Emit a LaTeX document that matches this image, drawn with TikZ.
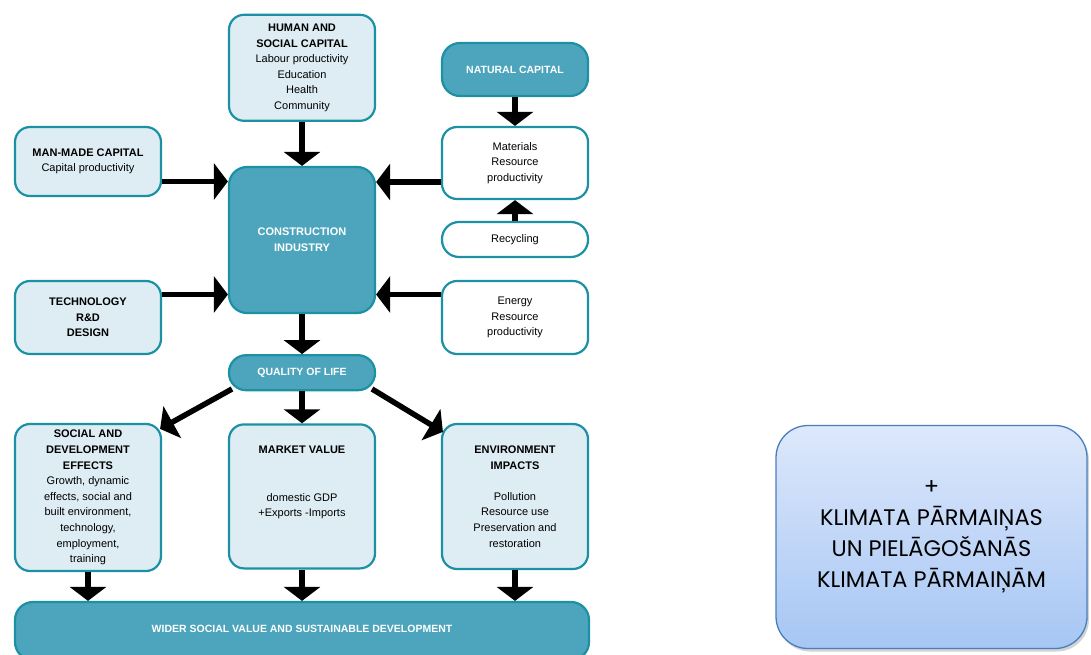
\documentclass[tikz,border=0pt]{standalone}
\usepackage{fontspec}
\setmainfont{Liberation Sans}
\newfontfamily\climfont{Poppins}
\usepackage{tikz}
\usetikzlibrary{arrows.meta, positioning, shadows}

\definecolor{tealline}{RGB}{28,145,163}
\definecolor{darkfill}{RGB}{76,165,188}
\definecolor{lightfill}{RGB}{222,237,243}
\definecolor{climline}{RGB}{74,126,187}
\definecolor{climtop}{RGB}{221,232,251}
\definecolor{climbot}{RGB}{166,198,244}

\begin{document}
\begin{tikzpicture}[x=1pt, y=-1pt, font=\fontsize{11}{15.6}\selectfont, node distance=40pt,
    capbox/.style={draw=tealline, line width=2.2pt, fill=lightfill, rounded corners=15pt, align=center, minimum width=146pt, inner sep=2pt},
    darkbox/.style={capbox, fill=darkfill, text=white, font=\fontsize{10.5}{15.6}\selectfont\bfseries},
    plainbox/.style={capbox, fill=white},
    bigarrow/.style={line width=5.5pt, -{Triangle[width=36pt,length=14pt]}}]
  \useasboundingbox (0,0) rectangle (1091,655);

  % centre and inputs
  \node[darkbox, minimum height=146pt, rounded corners=18pt, font=\fontsize{11}{15.6}\selectfont\bfseries] (construct) at (302,240) {CONSTRUCTION\\INDUSTRY};
  \node[capbox, minimum height=106pt, above=44pt of construct] (human) {\textbf{HUMAN AND}\\\textbf{SOCIAL CAPITAL}\\Labour productivity\\Education\\Health\\Community};
  \node[capbox, minimum height=69pt] (manmade) at (88,161.5) {\textbf{MAN-MADE CAPITAL}\\Capital productivity};
  \node[capbox, minimum height=73pt] (tech) at (88,317.5) {\textbf{TECHNOLOGY}\\\textbf{R\&D}\\\textbf{DESIGN}};
  \node[darkbox, minimum height=53pt, rounded corners=18pt] (natural) at (515,69.5) {NATURAL CAPITAL};
  \node[plainbox, minimum height=72pt] (mat) at (515,163) {Materials\\Resource\\productivity};
  \node[plainbox, minimum height=35pt, rounded corners=17pt] (recyc) at (515,239.5) {Recycling};
  \node[plainbox, minimum height=73pt] (energy) at (515,317.5) {Energy\\Resource\\productivity};

  % outputs
  \node[darkbox, minimum height=35pt, rounded corners=17pt, below=40pt of construct] (qol) {QUALITY OF LIFE};
  \node[capbox, minimum height=144pt, below=32pt of qol, text depth=30pt] (market) {\textbf{MARKET VALUE}\\[32pt]domestic GDP\\+Exports -Imports};
  \node[capbox, minimum height=147pt] (social) at (88,497.5) {\textbf{SOCIAL AND}\\\textbf{DEVELOPMENT}\\\textbf{EFFECTS}\\Growth, dynamic\\effects, social and\\built environment,\\technology,\\employment,\\training};
  \node[capbox, minimum height=145pt] (env) at (515,496.5) {\textbf{ENVIRONMENT}\\\textbf{IMPACTS}\\[15.6pt]Pollution\\Resource use\\Preservation and\\restoration};
  \node[darkbox, minimum width=574pt, minimum height=58pt, rounded corners=18pt, font=\fontsize{10.5}{14}\selectfont\bfseries, text depth=4pt] (wider) at (302,631) {WIDER SOCIAL VALUE AND SUSTAINABLE DEVELOPMENT};

  % side note
  \node[draw=climline, line width=1.3pt, rounded corners=32pt, top color=climtop, bottom color=climbot,
    minimum width=311pt, minimum height=223pt, align=center, drop shadow={shadow xshift=2pt, shadow yshift=-3pt, opacity=0.35},
    font=\climfont\fontsize{22.5}{31}\selectfont] (climate) at (931.5,537) {+\\KLIMATA PĀRMAIŅAS\\UN PIELĀGOŠANĀS\\KLIMATA PĀRMAIŅĀM};

  \coordinate (manout) at ([yshift=-20pt]manmade.east);
  \coordinate (matout) at ([yshift=-19pt]mat.west);
  \coordinate (techout) at ([yshift=23pt]tech.east);
  \coordinate (enout) at ([yshift=23pt]energy.west);
  \coordinate (qolleft) at (232,389);
  \coordinate (qolright) at (372,389);

  \draw[bigarrow] (human) -- (construct);
  \draw[bigarrow] (manout) -- (manout -| construct.west);
  \draw[bigarrow] (techout) -- (techout -| construct.west);
  \draw[bigarrow] (matout) -- (matout -| construct.east);
  \draw[bigarrow] (enout) -- (enout -| construct.east);
  \draw[bigarrow] (natural) -- (mat);
  \draw[bigarrow] (recyc) -- (mat);
  \draw[bigarrow] (construct) -- (qol);
  \draw[bigarrow] (qol) -- (market);
  \draw[bigarrow] (qolleft) -- ([xshift=-2pt,yshift=-6pt]social.north east);
  \draw[bigarrow] (qolright) -- ([xshift=2pt,yshift=-9pt]env.north west);
  \draw[bigarrow] (social) -- (social |- wider.north);
  \draw[bigarrow] (market) -- (market |- wider.north);
  \draw[bigarrow] (env) -- (env |- wider.north);
\end{tikzpicture}
\end{document}
